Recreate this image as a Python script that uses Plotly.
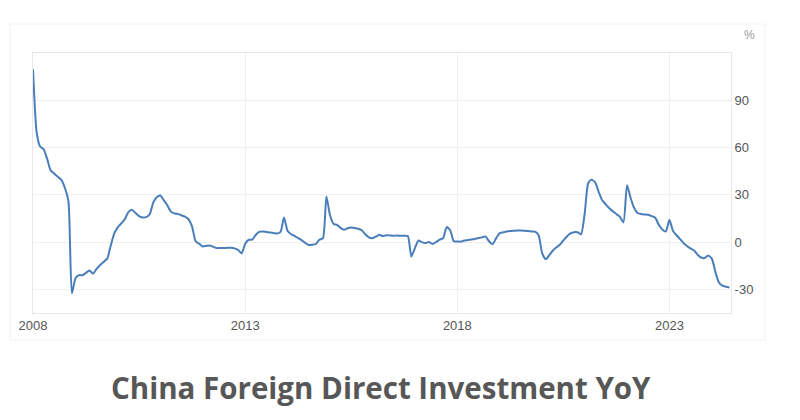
import pandas as pd
import plotly.graph_objects as go

# Monthly FDI YoY (%), Jan..Dec per year
y2008 = [109.7, 70, 60.8, 59, 53, 45.5, 43.5, 41.5, 39.5, 34.5, 26, -32.5]
y2009 = [-23, -21, -21, -19.5, -18, -20, -17, -14.5, -12.5, -10.5, -2, 5.5]
y2010 = [9.5, 12, 14.5, 19, 20.5, 18.5, 16.5, 15.6, 15.8, 17.5, 25, 28.5]
y2011 = [29.6, 26.5, 23.5, 19.5, 18.2, 17.9, 17, 16.2, 14.5, 10, 0.5, -1]
y2012 = [-2.8, -2.4, -2.1, -3, -3.8, -3.8, -3.8, -3.6, -3.6, -4, -5, -7.2]
y2013 = [-1, 1.5, 1.5, 4.5, 6.5, 6.7, 6.4, 6.1, 5.8, 5.4, 6.5, 15.6]
y2014 = [7, 5, 4, 2.5, 1.2, -0.5, -1.8, -1.7, -1.2, 1.5, 2.5, 29]
y2015 = [17, 11.5, 11, 9, 7.8, 8.8, 9.3, 9, 8.5, 7.5, 5, 3]
y2016 = [2.5, 3.5, 4.6, 3.8, 4.4, 4.2, 4.0, 4.2, 4.0, 4.0, 3.8, -9.1]
y2017 = [-3.8, 1.0, 0, -0.6, 0, -1.2, 0, 1.5, 2.5, 9.5, 7.5, 0.5]
y2018 = [0.4, 0.3, 1, 1.3, 1.6, 2, 2.6, 3, 3.6, 0.5, -1.3, 2.5]
y2019 = [5.7, 6.2, 6.7, 7.0, 7.2, 7.4, 7.3, 7.2, 7.0, 6.8, 6.6, 4.5]
y2020 = [-7, -10.8, -8.5, -5.5, -3.5, -1.7, 1, 3.6, 5.5, 6.3, 6.2, 5]
y2021 = [18, 37.5, 39.5, 38, 32, 26.5, 24, 21.5, 19.5, 17.8, 16, 12.5]
y2022 = [36, 28, 22, 18.5, 17.8, 17.5, 17.3, 16.5, 15.5, 11, 8, 6.7]
y2023 = [14.1, 7, 4.5, 2, -0.5, -2.5, -4, -5.3, -8, -9.8, -10.1, -8.5]
y2024 = [-10.5, -19, -25.5, -27.7, -28.3, -28.8]

values = (y2008 + y2009 + y2010 + y2011 + y2012 + y2013 + y2014 + y2015 +
          y2016 + y2017 + y2018 + y2019 + y2020 + y2021 + y2022 + y2023 + y2024)
dates = pd.date_range("2008-01-01", periods=len(values), freq="MS")

x_tick_vals = ["2008-01-01", "2013-01-01", "2018-01-01", "2023-01-01"]
x_tick_text = ["2008", "2013", "2018", "2023"]
y_tick_vals = [-30, 0, 30, 60, 90, 120]
y_tick_text = ["-30", "0", "30", "60", "90", ""]

fig = go.Figure()
fig.add_trace(go.Scatter(
    x=dates, y=values, mode="lines",
    line=dict(color="#4a7ebb", width=2, shape="spline", smoothing=0.6),
    hoverinfo="x+y", showlegend=False,
))

grid = "#f0f0f0"
fig.update_layout(
    width=784, height=404,
    margin=dict(l=25, r=61, t=45, b=99),
    paper_bgcolor="white", plot_bgcolor="white",
    font=dict(family="Liberation Sans, Arial, sans-serif", size=13, color="#555555"),
    xaxis=dict(
        range=["2008-01-01", "2024-06-14"],
        tickvals=x_tick_vals, ticktext=x_tick_text,
        showgrid=True, gridcolor=grid, gridwidth=1,
        showline=True, linecolor="#e8e8e8", linewidth=1, mirror=True,
        ticks="", zeroline=False,
        tickfont=dict(size=13, color="#555555"),
    ),
    yaxis=dict(
        range=[-45, 120], side="right",
        tickvals=y_tick_vals, ticktext=y_tick_text,
        showgrid=True, gridcolor=grid, gridwidth=1,
        showline=True, linecolor="#e8e8e8", linewidth=1, mirror=True,
        zeroline=False, ticks="",
        tickfont=dict(size=13, color="#555555"),
    ),
    annotations=[
        dict(text="%", xref="paper", yref="paper", x=1.016, y=1.07,
             xanchor="left", yanchor="middle", showarrow=False,
             font=dict(size=12, color="#999999")),
        dict(text="<b>China Foreign Direct Investment YoY</b>",
             xref="paper", yref="paper", x=(381 - 33) / 698, y=(313 - 388) / 260,
             xanchor="center", yanchor="middle", showarrow=False,
             font=dict(family="Open Sans, sans-serif", size=29.5, color="#575757")),
    ],
    shapes=[
        dict(type="rect", xref="paper", yref="paper",
             x0=(10 - 33) / 698, x1=(765 - 33) / 698,
             y0=(313 - 340) / 260, y1=(313 - 24) / 260,
             line=dict(color="#f2f2f2", width=1), layer="below"),
    ],
)

fig.write_html("out.html")
